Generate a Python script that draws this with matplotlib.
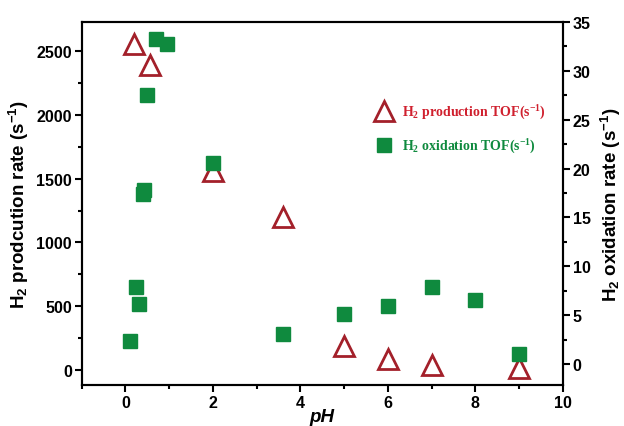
import matplotlib.pyplot as plt
from matplotlib.ticker import MultipleLocator

# H2 production (left axis, triangles)
ph_prod = [0.2, 0.55, 2.0, 3.6, 5.0, 6.0, 7.0, 9.0]
rate_prod = [2560, 2390, 1560, 1200, 190, 88, 40, 15]

# H2 oxidation (right axis, squares)
ph_ox = [0.1, 0.25, 0.3, 0.4, 0.42, 0.5, 0.7, 0.95, 2.0, 3.6, 5.0, 6.0, 7.0, 8.0, 9.0]
rate_ox = [2.4, 7.9, 6.1, 17.4, 17.8, 27.5, 33.3, 32.8, 20.6, 3.1, 5.1, 5.9, 7.9, 6.5, 1.0]

red = '#a3202a'
green = '#0f8a3e'

plt.rcParams['font.family'] = ['Liberation Sans', 'DejaVu Sans']
plt.rcParams['mathtext.default'] = 'regular'

fig = plt.figure(figsize=(6.24, 4.27), dpi=100)
ax = fig.add_axes([0.131, 0.096, 0.771, 0.85])
ax2 = ax.twinx()

p1, = ax.plot(ph_prod, rate_prod, linestyle='none', marker='^', markersize=14,
              markerfacecolor='none', markeredgecolor=red, markeredgewidth=2,
              label=r'H$_2$ production TOF(s$^{-1}$)')
p2, = ax2.plot(ph_ox, rate_ox, linestyle='none', marker='s', markersize=10.5,
               color=green, label=r'H$_2$ oxidation TOF(s$^{-1}$)')

ax.set_xlim(-1, 10)
ax.set_ylim(-120, 2730)
ax2.set_ylim(-2.15, 35)

ax.xaxis.set_major_locator(MultipleLocator(2))
ax.xaxis.set_minor_locator(MultipleLocator(1))
ax.yaxis.set_major_locator(MultipleLocator(500))
ax.yaxis.set_minor_locator(MultipleLocator(250))
ax2.yaxis.set_major_locator(MultipleLocator(5))
ax2.yaxis.set_minor_locator(MultipleLocator(2.5))

for a in (ax, ax2):
    a.tick_params(which='major', length=5, width=1.5, labelsize=11.5, pad=2)
    a.tick_params(which='minor', length=3, width=1.5)
    for s in a.spines.values():
        s.set_linewidth(1.5)
    for lab in a.get_xticklabels() + a.get_yticklabels():
        lab.set_fontweight('bold')
ax.tick_params(axis='y', which='both', right=False)

ax.set_xlabel('pH', fontsize=13.5, fontweight='bold', fontstyle='italic', labelpad=-1)
ax.set_ylabel(r'H$_2$ prodcution rate (s$^{-1}$)', fontsize=13.5, fontweight='bold', labelpad=4)
ax2.set_ylabel(r'H$_2$ oxidation rate (s$^{-1}$)', fontsize=13.5, fontweight='bold', labelpad=6)

leg = ax.legend(handles=[p1, p2], loc='center left', bbox_to_anchor=(0.6, 0.705),
                frameon=False, handletextpad=0.3, labelspacing=1.1,
                prop={'family': 'Liberation Serif', 'weight': 'bold', 'size': 10},
                labelcolor=['#d0202e', green], borderpad=0, borderaxespad=0)

fig.savefig('out.png', dpi=100)
